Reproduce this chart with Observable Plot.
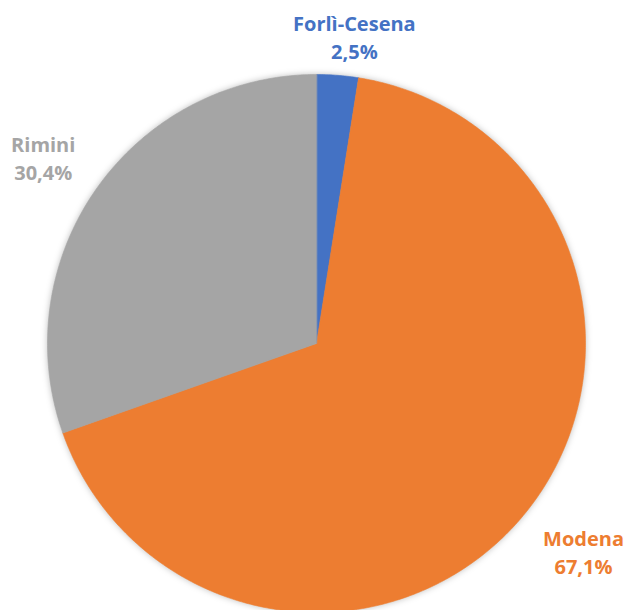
<!DOCTYPE html>
<html>
<head>
<meta charset="utf-8">
<script src="https://cdn.jsdelivr.net/npm/d3@7"></script>
<script src="https://cdn.jsdelivr.net/npm/@observablehq/plot@0.6"></script>
<style>
  html, body { margin: 0; padding: 0; background: #ffffff; overflow: hidden; }
  .slices { filter: drop-shadow(0 0 3px rgba(0,0,0,0.25)); }
</style>
</head>
<body>
<div id="chart"></div>
<script>
// Data
const categories = ["Forlì-Cesena", "Modena", "Rimini"];
const values = [2.5, 67.1, 30.4];
const valueLabels = ["2,5%", "67,1%", "30,4%"];
const colors = ["#4472C4", "#ED7D31", "#A5A5A5"];

// Build pie geometry in data space (unit circle), clockwise from 12 o'clock
const total = d3.sum(values);
let acc = 0;
const slices = categories.map((name, i) => {
  const a0 = acc / total * 2 * Math.PI;
  acc += values[i];
  const a1 = acc / total * 2 * Math.PI;
  return {name, a0, a1, label: valueLabels[i]};
});
const polyPoints = [];
for (const s of slices) {
  polyPoints.push({name: s.name, x: 0, y: 0});
  const n = Math.max(2, Math.ceil((s.a1 - s.a0) / (Math.PI / 360)));
  for (let k = 0; k <= n; k++) {
    const a = s.a0 + (s.a1 - s.a0) * k / n;
    polyPoints.push({name: s.name, x: Math.sin(a), y: Math.cos(a)});
  }
}
// Label anchors at mid-angle, slightly outside the pie
const labelR = 1.22;
const nudge = {"Forlì-Cesena": [0.045, -0.075], "Modena": [0.055, 0.008], "Rimini": [-0.02, -0.01]};
const labels = slices.map(s => {
  const m = (s.a0 + s.a1) / 2;
  const [nx, ny] = nudge[s.name] || [0, 0];
  return {name: s.name, text: s.name + "\n" + s.label,
          x: labelR * Math.sin(m) + nx, y: labelR * Math.cos(m) + ny};
});

const chart = Plot.plot({
  width: 629,
  height: 610,
  margin: 0,
  x: {domain: [-1, 1], range: [47, 585], axis: null},
  y: {domain: [-1, 1], range: [612, 74], axis: null},
  color: {domain: categories, range: colors},
  style: {fontFamily: "'Open Sans', 'DejaVu Sans', sans-serif", background: "#ffffff"},
  marks: [
    Plot.line(polyPoints, {
      x: "x", y: "y", z: "name", fill: "name", stroke: "name",
      strokeWidth: 0.6, curve: "linear-closed", className: "slices"
    }),
    Plot.text(labels, {
      x: "x", y: "y", text: "text", fill: "name",
      fontSize: 20, fontWeight: "bold", lineHeight: 1.4,
      textAnchor: "middle", lineAnchor: "middle"
    })
  ]
});
document.getElementById("chart").append(chart);
</script>
</body>
</html>
